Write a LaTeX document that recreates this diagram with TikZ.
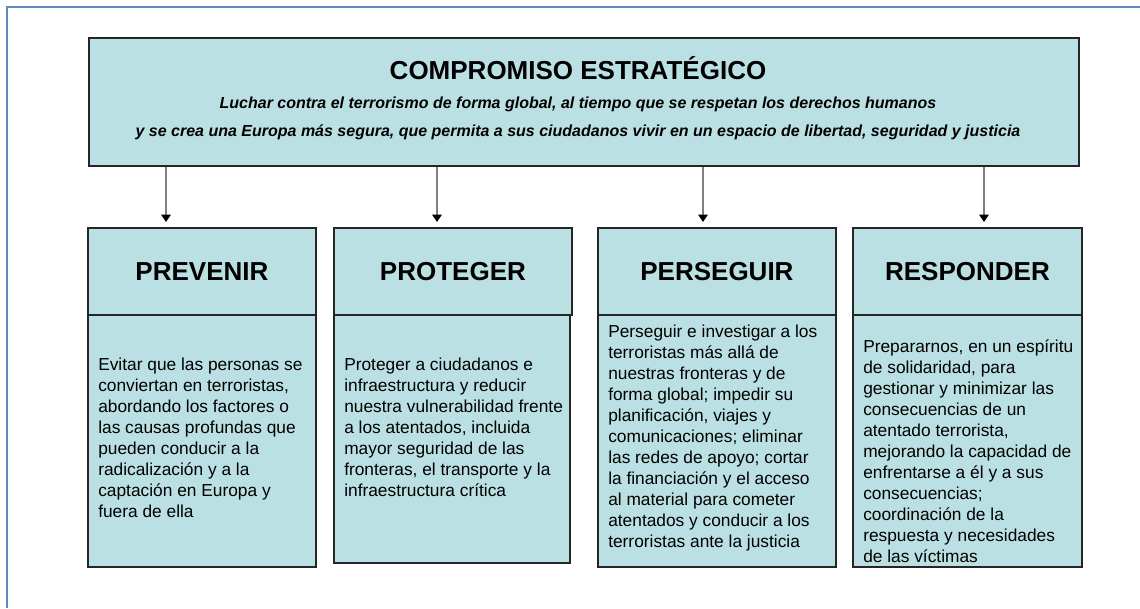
\documentclass[tikz,border=0pt]{standalone}
\usepackage{fontspec}
\setmainfont{Liberation Sans}
\usetikzlibrary{arrows.meta}
\definecolor{boxfill}{RGB}{187,224,227}
\definecolor{framecol}{RGB}{95,135,195}
\definecolor{linkgray}{RGB}{128,128,128}
\begin{document}
\begin{tikzpicture}[x=0.75pt,y=-0.75pt,
    box/.style={draw=black!85,line width=1.4pt,fill=boxfill,inner sep=0pt,anchor=north west},
    headbox/.style={box,minimum height=65.25pt,font=\bfseries\fontsize{19.5}{23}\selectfont},
    bodytext/.style={font=\fontsize{13}{15.75}\selectfont,align=left,inner sep=0pt,anchor=north west},
    subtext/.style={font=\bfseries\itshape\fontsize{12}{14}\selectfont,inner sep=0pt,anchor=base},
    link/.style={draw=linkgray,line width=1.7pt,-{Triangle[width=7pt,length=5.5pt,color=black]}}]
    \useasboundingbox (0,0) rectangle (1140,608);

    % Page frame
    \draw [framecol,line width=1.2pt] (7,608) -- (7,7) -- (1140,7);%

    % Strategic commitment
    \node [box,minimum width=742.5pt,minimum height=96pt] (top) at (88,37) {};%
    \node [font=\bfseries\fontsize{19.5}{23}\selectfont,inner sep=0pt,anchor=base] (title) at (578,79.5) {COMPROMISO ESTRATÉGICO};%
    \node [subtext] (sub1) at (578,108) {Luchar contra el terrorismo de forma global, al tiempo que se respetan los derechos humanos};%
    \node [subtext] (sub2) at (578,136) {y se crea una Europa más segura, que permita a sus ciudadanos vivir en un espacio de libertad, seguridad y justicia};%

    % Headers of the four strands
    \node [headbox,minimum width=171pt] (h1) at (87,227) {PREVENIR};%
    \node [headbox,minimum width=178.5pt] (h2) at (333,227) {PROTEGER};%
    \node [headbox,minimum width=178.5pt] (h3) at (597,227) {PERSEGUIR};%
    \node [headbox,minimum width=171.75pt] (h4) at (852,227) {RESPONDER};%

    % Bodies of the four strands
    \node [box,minimum width=171pt,minimum height=189pt] (b1) at (87,314) {};%
    \node [box,minimum width=177pt,minimum height=186pt] (b2) at (333,314) {};%
    \node [box,minimum width=178.5pt,minimum height=189pt] (b3) at (597,314) {};%
    \node [box,minimum width=171.75pt,minimum height=189pt] (b4) at (852,314) {};%

    \node [bodytext] (t1) at (98,358) {Evitar que las personas se\\conviertan en terroristas,\\abordando los factores o\\las causas profundas que\\pueden conducir a la\\radicalización y a la\\captación en Europa y\\fuera de ella};%
    \node [bodytext] (t2) at (344,358) {Proteger a ciudadanos e\\infraestructura y reducir\\nuestra vulnerabilidad frente\\a los atentados, incluida\\mayor seguridad de las\\fronteras, el transporte y la\\infraestructura crítica};%
    \node [bodytext] (t3) at (608,325) {Perseguir e investigar a los\\terroristas más allá de\\nuestras fronteras y de\\forma global; impedir su\\planificación, viajes y\\comunicaciones; eliminar\\las redes de apoyo; cortar\\la financiación y el acceso\\al material para cometer\\atentados y conducir a los\\terroristas ante la justicia};%
    \node [bodytext] (t4) at (863,339) {Prepararnos, en un espíritu\\de solidaridad, para\\gestionar y minimizar las\\consecuencias de un\\atentado terrorista,\\mejorando la capacidad de\\enfrentarse a él y a sus\\consecuencias;\\coordinación de la\\respuesta y necesidades\\de las víctimas};%

    % Arrows from the commitment to each strand
    \coordinate (a1) at (166,222);%
    \coordinate (a2) at (437,222);%
    \coordinate (a3) at (703,222);%
    \coordinate (a4) at (984,222);%
    \draw [link] (top.south -| a1) -- (a1);%
    \draw [link] (top.south -| a2) -- (a2);%
    \draw [link] (top.south -| a3) -- (a3);%
    \draw [link] (top.south -| a4) -- (a4);%
\end{tikzpicture}
\end{document}
